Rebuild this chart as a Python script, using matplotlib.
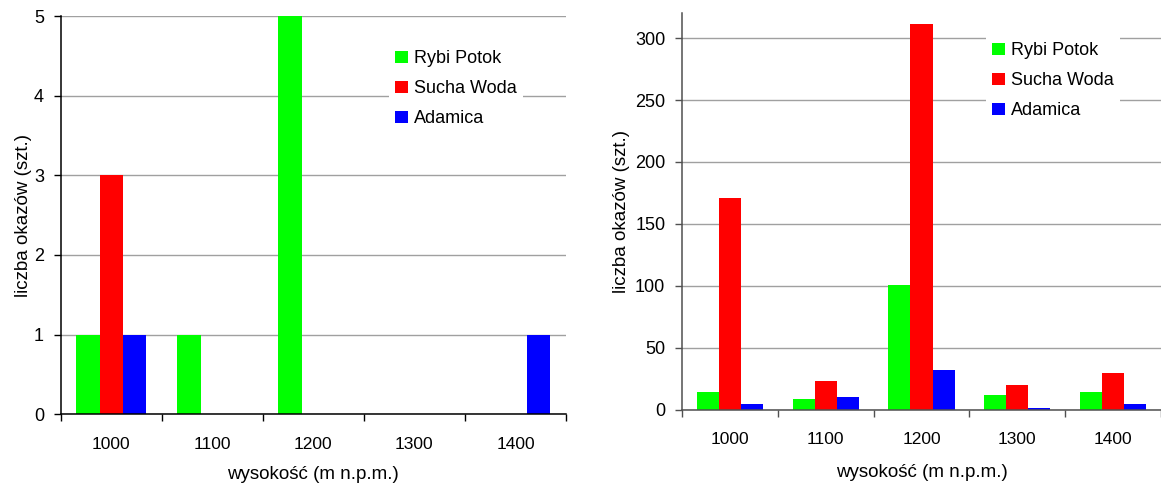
import matplotlib.pyplot as plt
import numpy as np

plt.rcParams['font.family'] = ['Liberation Sans', 'DejaVu Sans']

# altitude classes (m a.s.l.)
heights = ['1000', '1100', '1200', '1300', '1400']
series = ['Rybi Potok', 'Sucha Woda', 'Adamica']
colors = ['#00ff00', '#ff0000', '#0000ff']

# left panel - counts per stream
left_rybi = [1, 1, 5, 0, 0]
left_sucha = [3, 0, 0, 0, 0]
left_adamica = [1, 0, 0, 0, 1]

# right panel - counts per stream
right_rybi = [14, 9, 101, 12, 14]
right_sucha = [171, 23, 311, 20, 30]
right_adamica = [5, 10, 32, 1, 5]

W, H = 1161, 483
fig = plt.figure(figsize=(W / 100, H / 100), dpi=100)


def panel(rect, data, ymax, yticks, spine_col, ylabel_x, xlabel_y, leg_anchor):
    ax = fig.add_axes(rect)
    x = np.arange(len(heights))
    bw = 0.23
    for i, (vals, name, col) in enumerate(zip(data, series, colors)):
        ax.bar(x + (i - 1) * bw, vals, width=bw, color=col, label=name, zorder=2)
    ax.set_xlim(-0.5, len(heights) - 0.5)
    ax.set_ylim(0, ymax)
    ax.set_yticks(yticks)
    ax.yaxis.grid(True, color='#a0a0a0', lw=1, zorder=0)
    ax.set_axisbelow(True)
    for s in ['top', 'right']:
        ax.spines[s].set_visible(False)
    for s in ['left', 'bottom']:
        ax.spines[s].set_color(spine_col)
        ax.spines[s].set_linewidth(1.1)
    ax.set_xticks(x)
    ax.set_xticklabels(heights)
    ax.set_xticks(np.arange(len(heights) + 1) - 0.5, minor=True)
    ax.tick_params(axis='x', which='major', length=0, pad=16, labelsize=12.5)
    ax.tick_params(axis='x', which='minor', length=5, width=1, color=spine_col)
    ax.tick_params(axis='y', length=5, width=1, color=spine_col, pad=7, labelsize=13)
    ax.set_xlabel('wysokość (m n.p.m.)', fontsize=13.5)
    ax.set_ylabel('liczba okazów (szt.)', fontsize=13.5)
    ax.xaxis.set_label_coords(0.5, xlabel_y)
    ax.yaxis.set_label_coords(ylabel_x, 0.5)
    leg = ax.legend(loc='upper left', bbox_to_anchor=leg_anchor, bbox_transform=fig.transFigure,
                    fontsize=13, frameon=True, facecolor='white', edgecolor='none', framealpha=1,
                    fancybox=False, handlelength=0.72, handleheight=0.72, handletextpad=0.3,
                    labelspacing=0.72, borderpad=0.35, borderaxespad=0)
    leg.set_zorder(5)
    return ax


panel([60.7 / W, 1 - 414.3 / H, 505.3 / W, 398.3 / H],
      [left_rybi, left_sucha, left_adamica], 5, range(0, 6), 'black',
      -0.057, -0.13, (389 / W, 1 - 44 / H))

panel([682 / W, 1 - 409.7 / H, 479 / W, 396.4 / H],
      [right_rybi, right_sucha, right_adamica], 320, range(0, 301, 50), '#505050',
      -0.1086, -0.136, (986 / W, 1 - 36 / H))

fig.savefig('out.png', dpi=100)
